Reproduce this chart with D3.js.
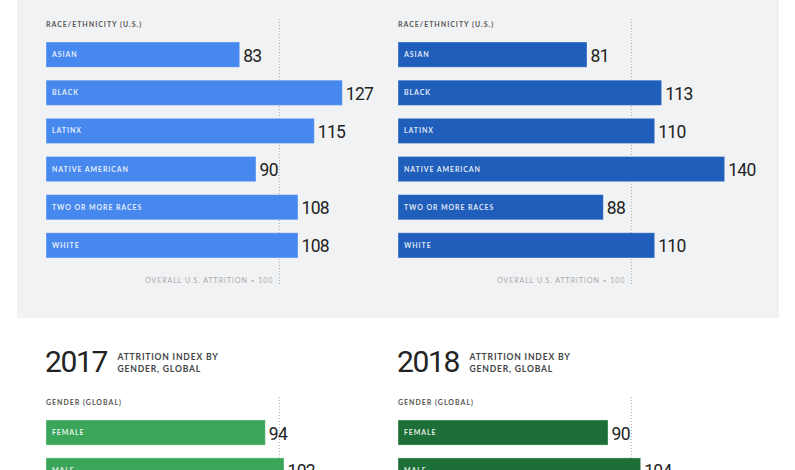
<!DOCTYPE html>
<html><head><meta charset="utf-8">
<script src="https://cdn.jsdelivr.net/npm/d3@7"></script>
<style>
body{margin:0;background:#fff;}
svg{display:block;}
</style></head>
<body>
<svg id="c" width="795" height="470"></svg>
<script>
const raceCategories = ["ASIAN","BLACK","LATINX","NATIVE AMERICAN","TWO OR MORE RACES","WHITE"];
const race2017 = [83,127,115,90,108,108];
const race2018 = [81,113,110,140,88,110];
const genderCategories = ["FEMALE","MALE"];
const gender2017 = [94,102];
const gender2018 = [90,104];
const years = ["2017","2018"];
const referenceValue = 100;

const svg = d3.select("#c");
const numFont = "Roboto, 'Open Sans', sans-serif";
const capFont = "Lato, 'Open Sans', sans-serif";

svg.append("rect").attr("x",17).attr("y",0).attr("width",762).attr("height",318).attr("fill","#f1f2f4");

const panels = [
  {x0:46, race:race2017, gender:gender2017, raceColor:"#4788ee", genderColor:"#3ba65a", year:years[0]},
  {x0:398, race:race2018, gender:gender2018, raceColor:"#1f5eba", genderColor:"#1e6f37", year:years[1]}
];

const yRace = d3.scaleBand().domain(raceCategories).range([42,258]).paddingInner(0.338);
const yGender = d3.scaleBand().domain(genderCategories).range([420,483]).paddingInner(0.338);

function drawBars(g, x, y, cats, vals, color){
  const rows = g.selectAll("g.row").data(cats.map((c,i)=>({c,v:vals[i]}))).join("g").attr("class","row");
  rows.append("rect")
    .attr("x",x(0)).attr("y",d=>y(d.c))
    .attr("width",d=>x(d.v)-x(0)).attr("height",y.bandwidth())
    .attr("fill",color).attr("stroke","rgba(255,255,255,0.35)").attr("stroke-width",1);
  rows.append("text")
    .attr("x",x(0)+6).attr("y",d=>y(d.c)+y.bandwidth()/2+2.5)
    .attr("fill","rgba(255,255,255,0.88)").attr("font-family",capFont).attr("font-weight",700)
    .attr("font-size",7).attr("letter-spacing",0.9).text(d=>d.c);
  rows.append("text")
    .attr("x",d=>x(d.v)+3.5).attr("y",d=>y(d.c)+y.bandwidth()/2+7)
    .attr("fill","#222").attr("font-family",numFont).attr("font-size",17.5).attr("letter-spacing",-0.7)
    .text(d=>d.v);
}

panels.forEach(p=>{
  const x = d3.scaleLinear().domain([0,150]).range([p.x0, p.x0+350]);
  const g = svg.append("g");
  g.append("line").attr("x1",x(referenceValue)).attr("x2",x(referenceValue)).attr("y1",19).attr("y2",286)
    .attr("stroke","#a8a8a8").attr("stroke-width",1).attr("stroke-dasharray","1,2");
  g.append("line").attr("x1",x(referenceValue)).attr("x2",x(referenceValue)).attr("y1",397).attr("y2",470)
    .attr("stroke","#a8a8a8").attr("stroke-width",1).attr("stroke-dasharray","1,2");
  g.append("text").attr("x",p.x0).attr("y",26.5).attr("font-family",capFont).attr("font-weight",700)
    .attr("font-size",7).attr("letter-spacing",1.0).attr("fill","#555").text("RACE/ETHNICITY (U.S.)");
  g.append("text").attr("x",x(referenceValue)-6).attr("y",282.5).attr("text-anchor","end")
    .attr("font-family",capFont).attr("font-size",7).attr("letter-spacing",0.95).attr("fill","#a9a9a9")
    .text("OVERALL U.S. ATTRITION = " + referenceValue);
  drawBars(g.append("g"), x, yRace, raceCategories, p.race, p.raceColor);

  g.append("text").attr("x",p.x0-1).attr("y",372).attr("font-family",numFont).attr("font-size",30)
    .attr("letter-spacing",-1.4).attr("fill","#222").text(p.year);
  g.append("text").attr("x",p.x0+71.5).attr("y",359.5).attr("font-family",capFont).attr("font-weight",700)
    .attr("font-size",8.6).attr("letter-spacing",0.8).attr("fill","#444").text("ATTRITION INDEX BY");
  g.append("text").attr("x",p.x0+71.5).attr("y",371.5).attr("font-family",capFont).attr("font-weight",700)
    .attr("font-size",8.6).attr("letter-spacing",0.8).attr("fill","#444").text("GENDER, GLOBAL");
  g.append("text").attr("x",p.x0).attr("y",405).attr("font-family",capFont).attr("font-weight",700)
    .attr("font-size",7).attr("letter-spacing",1.0).attr("fill","#555").text("GENDER (GLOBAL)");
  drawBars(g.append("g"), x, yGender, genderCategories, p.gender, p.genderColor);
});
</script>
</body></html>
